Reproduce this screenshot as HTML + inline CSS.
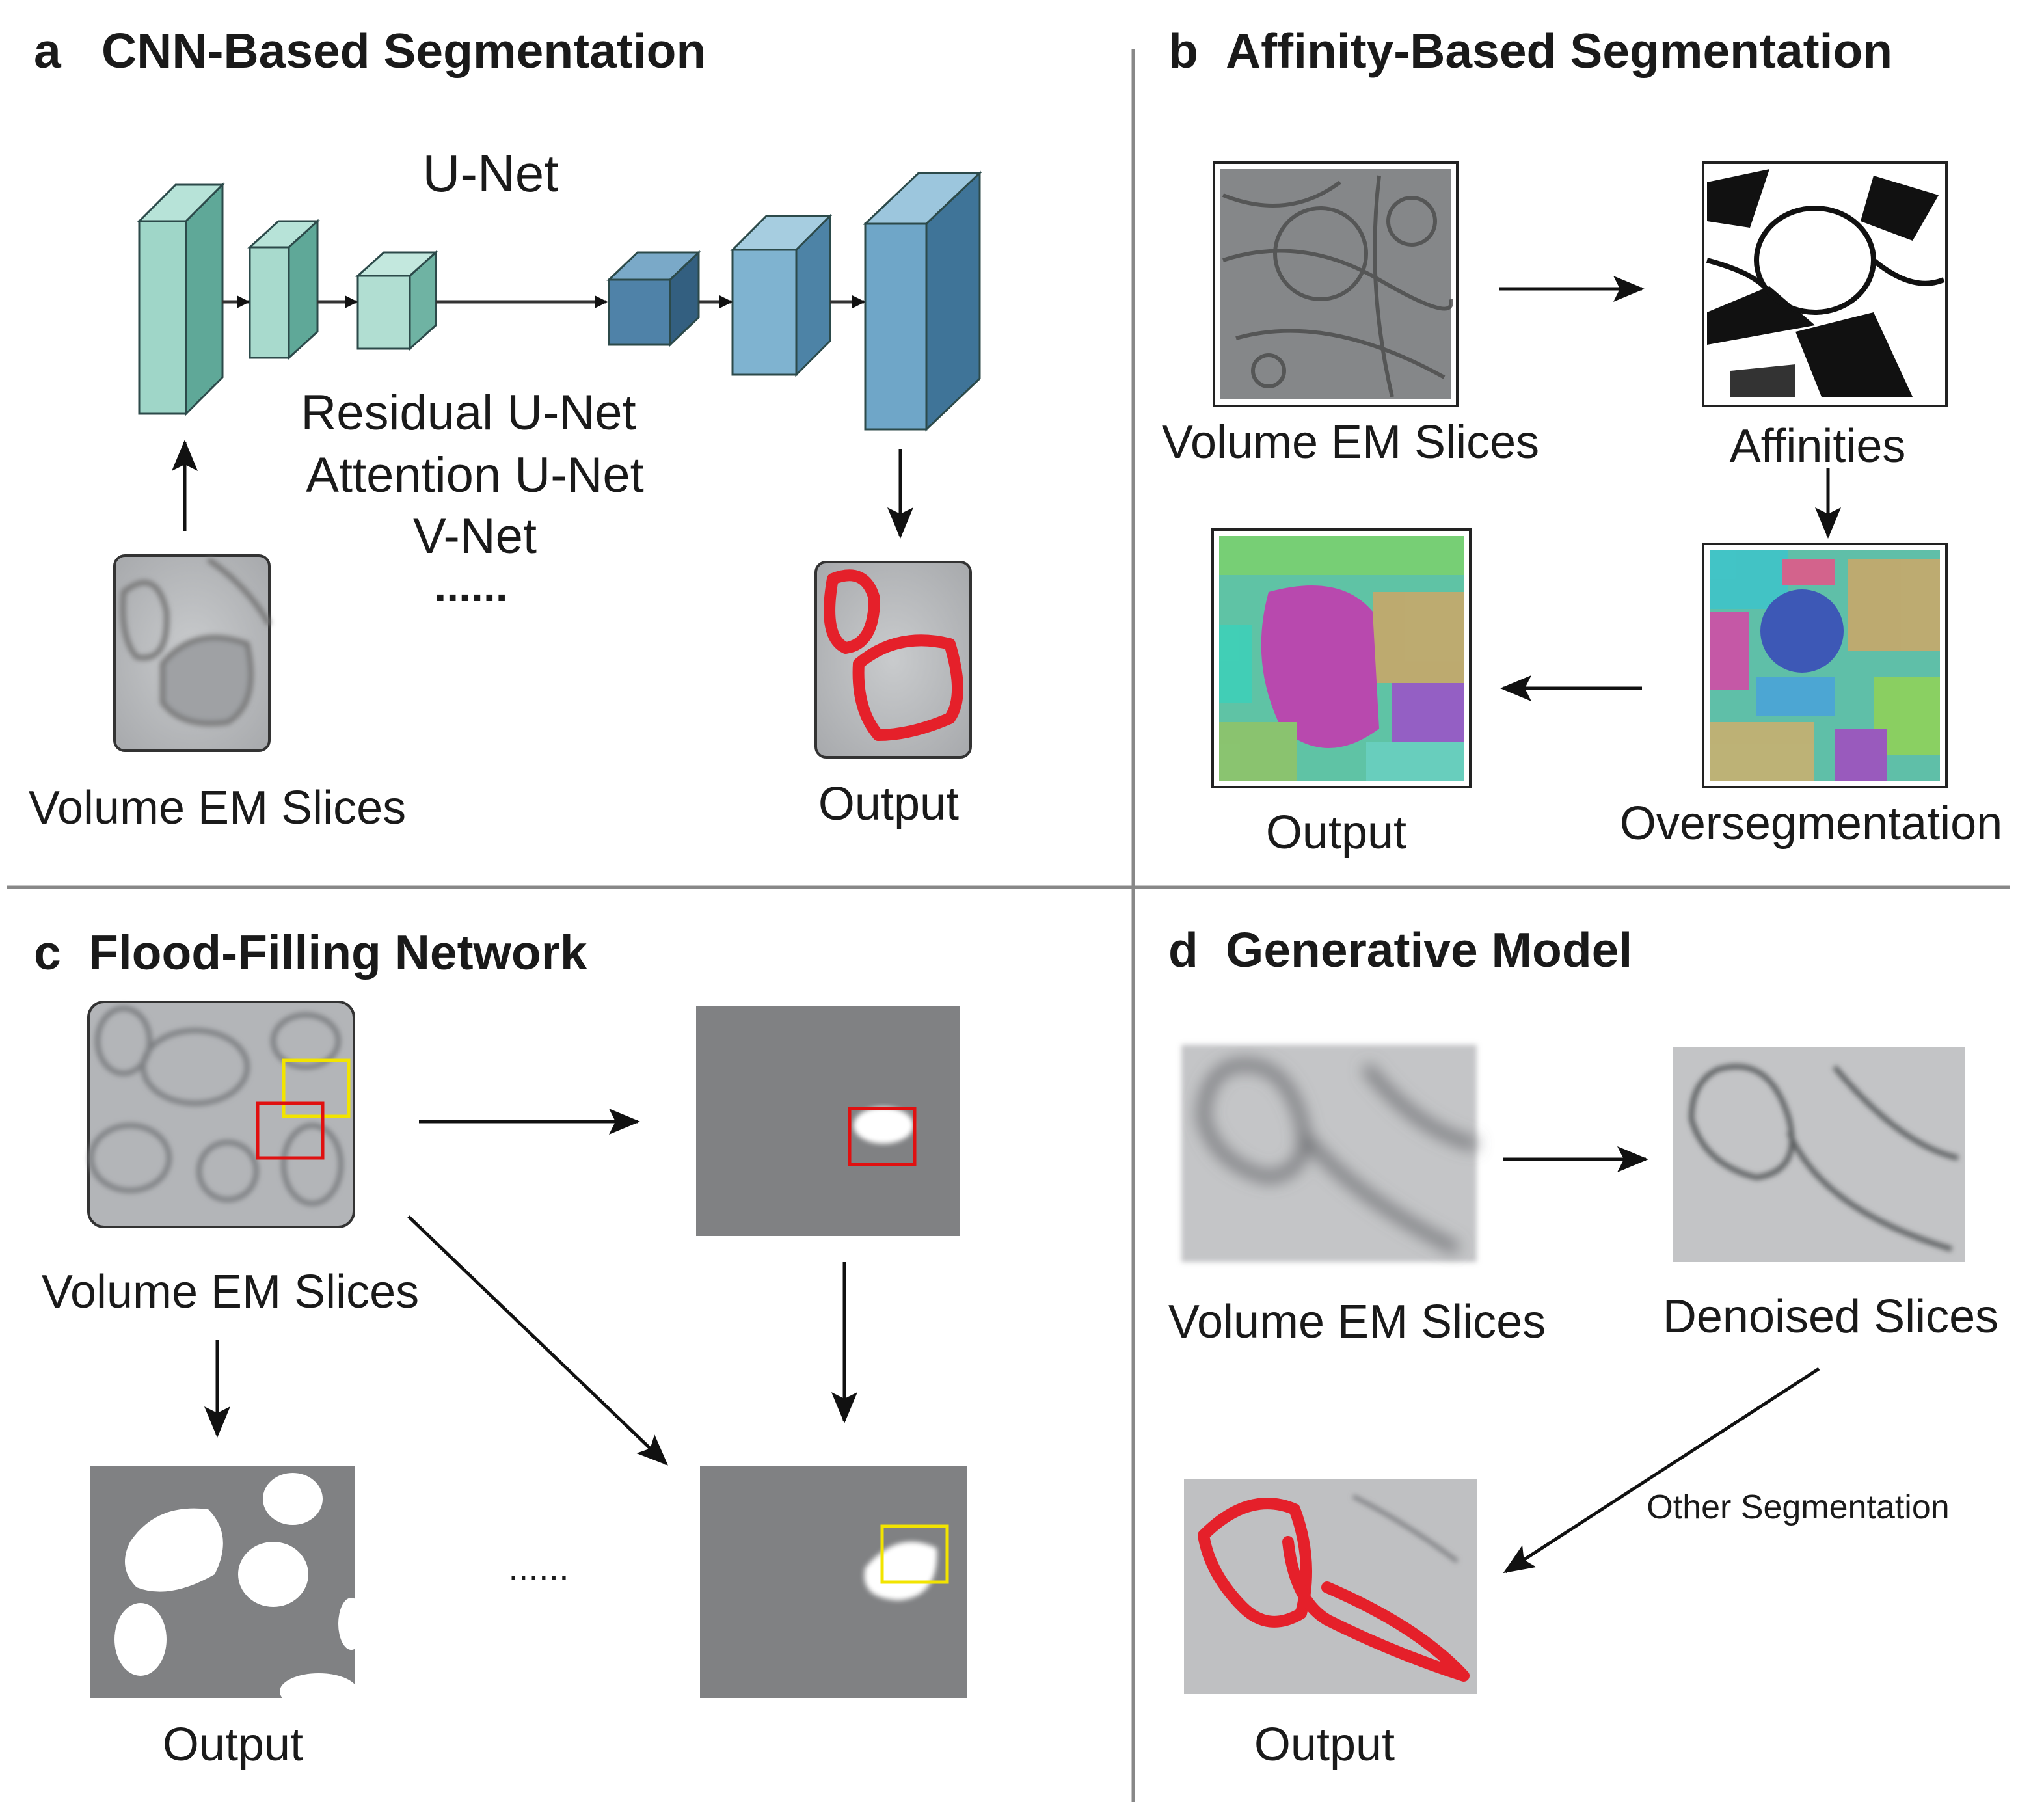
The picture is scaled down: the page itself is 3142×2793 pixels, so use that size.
<!DOCTYPE html>
<html><head><meta charset="utf-8"><style>
html,body{margin:0;padding:0;background:#fff;width:3142px;height:2793px;overflow:hidden}
svg{display:block}
text{font-family:"Liberation Sans",sans-serif;fill:#1a1a1a}
.t{font-weight:bold;font-size:37.5px}
.l{font-size:36px}
</style></head><body>
<svg width="3142" height="2793" viewBox="0 0 1571 1396.5" xmlns="http://www.w3.org/2000/svg">
<defs>
<marker id="ah" markerWidth="10" markerHeight="10" refX="9" refY="5" orient="auto" markerUnits="userSpaceOnUse" viewBox="0 0 10 10"><path d="M0,0 L10,5 L0,10 z" fill="#111"/></marker>
<marker id="ah2" markerWidth="24" markerHeight="20" refX="22" refY="10" orient="auto" markerUnits="userSpaceOnUse" viewBox="0 0 24 20"><path d="M0,0 L24,10 L0,20 L5,10 z" fill="#111"/></marker>
<filter id="bl"><feGaussianBlur stdDeviation="6"/></filter>
<filter id="bl2"><feGaussianBlur stdDeviation="2"/></filter>
<radialGradient id="em" cx="50%" cy="50%" r="70%"><stop offset="0" stop-color="#c9cbcd"/><stop offset="1" stop-color="#a7a9ac"/></radialGradient>
</defs>

<line x1="871" y1="38" x2="871" y2="1385" stroke="#888" stroke-width="2.5"/>
<line x1="5" y1="682" x2="1545" y2="682" stroke="#888" stroke-width="2.5"/>

<text class="t" x="26" y="52">a</text><text class="t" x="78" y="52">CNN-Based Segmentation</text>
<text class="t" x="898" y="52">b</text><text class="t" x="942" y="52">Affinity-Based Segmentation</text>
<text class="t" x="26" y="745">c</text><text class="t" x="68" y="745">Flood-Filling Network</text>
<text class="t" x="898" y="743">d</text><text class="t" x="942" y="743">Generative Model</text>

<g stroke="#2c4a4a" stroke-width="1.5">
 <polygon points="107,170 135,142 171,142 143,170" fill="#b7e3d8"/><polygon points="143,170 171,142 171,290 143,318" fill="#5fa898"/><rect x="107" y="170" width="36" height="148" fill="#9fd6c8"/>
 <polygon points="192,190 214,170 244,170 222,190" fill="#b7e3d8"/><polygon points="222,190 244,170 244,255 222,275" fill="#5fa898"/><rect x="192" y="190" width="30" height="85" fill="#a8dacd"/>
 <polygon points="275,212 295,194 335,194 315,212" fill="#c3e8de"/><polygon points="315,212 335,194 335,250 315,268" fill="#6fb3a3"/><rect x="275" y="212" width="40" height="56" fill="#b1ded2"/>
 <polygon points="468,215 490,194 537,194 515,215" fill="#7aa9c8"/><polygon points="515,215 537,194 537,244 515,265" fill="#335f80"/><rect x="468" y="215" width="47" height="50" fill="#4f82a8"/>
 <polygon points="563,192 589,166 638,166 612,192" fill="#a6cde0"/><polygon points="612,192 638,166 638,262 612,288" fill="#4d83a6"/><rect x="563" y="192" width="49" height="96" fill="#7fb3d0"/>
 <polygon points="665,172 706,133 753,133 712,172" fill="#9cc6dd"/><polygon points="712,172 753,133 753,291 712,330" fill="#3f7498"/><rect x="665" y="172" width="47" height="158" fill="#6fa6c8"/>
</g>
<g stroke="#333" stroke-width="2.5" marker-end="url(#ah)">
 <line x1="171" y1="232" x2="191" y2="232"/><line x1="244" y1="232" x2="274" y2="232"/><line x1="335" y1="232" x2="466" y2="232"/><line x1="537" y1="232" x2="562" y2="232"/><line x1="638" y1="232" x2="664" y2="232"/>
</g>
<text x="377" y="147" font-size="40" text-anchor="middle">U-Net</text>
<text x="360" y="330" font-size="38" text-anchor="middle">Residual U-Net</text>
<text x="365" y="378" font-size="38" text-anchor="middle">Attention U-Net</text>
<text x="365" y="425" font-size="38" text-anchor="middle">V-Net</text>
<text x="362" y="462" font-size="34" font-weight="bold" text-anchor="middle">......</text>
<line x1="142" y1="408" x2="142" y2="340" stroke="#111" stroke-width="2.5" marker-end="url(#ah2)"/>
<rect x="88" y="427" width="119" height="150" rx="8" fill="url(#em)" stroke="#333" stroke-width="2"/>
<g filter="url(#bl2)" fill="none" stroke="#777" stroke-width="4"><path d="M95,455 Q120,435 128,470 Q130,510 105,505 Q92,490 95,455z"/><path d="M125,510 Q150,480 190,495 Q200,540 175,555 Q140,560 125,540z" fill="#9fa1a4"/><path d="M160,430 Q190,450 207,480"/></g>
<text class="l" x="167" y="633" text-anchor="middle">Volume EM Slices</text>
<line x1="692" y1="345" x2="692" y2="412" stroke="#111" stroke-width="2.5" marker-end="url(#ah2)"/>
<rect x="627" y="432" width="119" height="150" rx="8" fill="url(#em)" stroke="#333" stroke-width="2"/>
<g fill="none" stroke="#e5202a" stroke-width="9" stroke-linejoin="round"><path d="M640,445 Q665,435 672,460 Q672,495 650,498 Q632,490 640,445z"/><path d="M660,510 Q690,485 730,495 Q742,535 730,552 Q700,565 675,565 Q658,545 660,510z"/></g>
<text class="l" x="683" y="630" text-anchor="middle">Output</text>

<rect x="933" y="125" width="187" height="187" fill="#fff" stroke="#222" stroke-width="2"/>
<rect x="938" y="130" width="177" height="177" fill="#858789"/>
<g fill="none" stroke="#4a4a4a" stroke-width="3" opacity=".8"><path d="M940,200 Q1000,180 1060,215 T1115,230"/><circle cx="1015" cy="195" r="35"/><path d="M950,260 Q1020,240 1110,290"/><path d="M1060,135 Q1050,220 1070,305"/><path d="M940,150 Q990,170 1030,140"/><circle cx="1085" cy="170" r="18"/><circle cx="975" cy="285" r="12"/></g>
<rect x="1309" y="125" width="187" height="187" fill="#fff" stroke="#222" stroke-width="2"/>
<g fill="#111"><path d="M1312,140 L1360,130 L1345,175 L1312,170z"/><path d="M1312,240 L1360,220 L1395,250 L1312,265z"/><path d="M1380,255 L1440,240 L1470,305 L1400,305z"/><path d="M1440,135 L1490,150 L1470,185 L1430,170z"/><path d="M1330,285 L1380,280 L1380,305 L1330,305z" fill="#333"/></g>
<g fill="none" stroke="#111" stroke-width="4"><ellipse cx="1395" cy="200" rx="45" ry="40"/><path d="M1312,200 Q1350,210 1360,225"/><path d="M1440,200 Q1470,225 1494,215"/></g>
<line x1="1152" y1="222" x2="1262" y2="222" stroke="#111" stroke-width="2.5" marker-end="url(#ah2)"/>
<text class="l" x="1038" y="352" text-anchor="middle">Volume EM Slices</text>
<text class="l" x="1397" y="355" text-anchor="middle">Affinities</text>
<line x1="1405" y1="360" x2="1405" y2="412" stroke="#111" stroke-width="2.5" marker-end="url(#ah2)"/>
<rect x="1309" y="418" width="187" height="187" fill="#fff" stroke="#222" stroke-width="2"/>
<rect x="1314" y="423" width="177" height="177" fill="#5fbfa8"/>
<g opacity=".9"><rect x="1314" y="423" width="60" height="45" fill="#3fc4c9"/><rect x="1420" y="430" width="71" height="70" fill="#c8a86a"/><ellipse cx="1385" cy="485" rx="32" ry="32" fill="#3a4db8"/><rect x="1314" y="470" width="30" height="60" fill="#d14da6"/><rect x="1440" y="520" width="51" height="60" fill="#8fd15a"/><rect x="1314" y="555" width="80" height="45" fill="#c8b070"/><rect x="1350" y="520" width="60" height="30" fill="#4aa4d8"/><rect x="1410" y="560" width="40" height="40" fill="#a050c0"/><rect x="1370" y="430" width="40" height="20" fill="#e05a8a"/></g>
<line x1="1262" y1="529" x2="1155" y2="529" stroke="#111" stroke-width="2.5" marker-end="url(#ah2)"/>
<rect x="932" y="407" width="198" height="198" fill="#fff" stroke="#222" stroke-width="2"/>
<rect x="937" y="412" width="188" height="188" fill="#5fc3a5"/>
<g opacity=".9"><rect x="1055" y="455" width="70" height="70" fill="#c8a86a"/><path d="M975,455 Q1030,440 1055,470 L1060,560 Q1020,590 985,560 Q960,510 975,455z" fill="#c23cb0"/><rect x="1070" y="525" width="55" height="50" fill="#9a55c8"/><rect x="937" y="555" width="60" height="45" fill="#8fc46a"/><rect x="937" y="412" width="188" height="30" fill="#7ad070"/><rect x="1050" y="570" width="75" height="30" fill="#6ad0c0"/><rect x="937" y="480" width="25" height="60" fill="#3ed0b8"/></g>
<text class="l" x="1027" y="652" text-anchor="middle">Output</text>
<text class="l" x="1392" y="645" text-anchor="middle">Oversegmentation</text>

<rect x="68" y="770" width="204" height="173" rx="12" fill="#b3b5b8" stroke="#333" stroke-width="2"/>
<g fill="none" stroke="#7d7f82" stroke-width="4" filter="url(#bl2)"><ellipse cx="150" cy="820" rx="40" ry="28"/><ellipse cx="100" cy="890" rx="30" ry="25"/><ellipse cx="175" cy="900" rx="22" ry="22"/><ellipse cx="235" cy="800" rx="25" ry="20"/><ellipse cx="240" cy="895" rx="22" ry="30"/><ellipse cx="95" cy="800" rx="20" ry="25"/></g>
<rect x="218" y="815" width="50" height="43" fill="none" stroke="#f2e400" stroke-width="2.5"/>
<rect x="198" y="848" width="50" height="42" fill="none" stroke="#e01010" stroke-width="2.5"/>
<line x1="322" y1="862" x2="490" y2="862" stroke="#111" stroke-width="2.5" marker-end="url(#ah2)"/>
<rect x="535" y="773" width="203" height="177" fill="#808183"/>
<ellipse cx="679" cy="865" rx="23" ry="14" fill="#fff" filter="url(#bl2)"/>
<rect x="653" y="852" width="50" height="43" fill="none" stroke="#e01010" stroke-width="2.5"/>
<line x1="649" y1="970" x2="649" y2="1092" stroke="#111" stroke-width="2.5" marker-end="url(#ah2)"/>
<line x1="314" y1="935" x2="512" y2="1125" stroke="#111" stroke-width="2.5" marker-end="url(#ah2)"/>
<text class="l" x="177" y="1005" text-anchor="middle">Volume EM Slices</text>
<line x1="167" y1="1030" x2="167" y2="1103" stroke="#111" stroke-width="2.5" marker-end="url(#ah2)"/>
<rect x="69" y="1127" width="204" height="178" fill="#808183"/>
<g fill="#fff"><path d="M100,1185 Q120,1155 160,1160 Q180,1180 165,1210 Q130,1230 105,1220 Q90,1205 100,1185z"/><ellipse cx="225" cy="1152" rx="23" ry="20"/><ellipse cx="210" cy="1210" rx="27" ry="25"/><ellipse cx="108" cy="1260" rx="20" ry="28"/><ellipse cx="270" cy="1248" rx="10" ry="20"/><ellipse cx="245" cy="1300" rx="30" ry="14"/></g>
<text x="414" y="1214" font-size="28" text-anchor="middle">......</text>
<rect x="538" y="1127" width="205" height="178" fill="#808183"/>
<path d="M665,1205 Q690,1175 720,1190 Q722,1228 690,1230 Q660,1228 665,1205z" fill="#fff" filter="url(#bl2)"/>
<rect x="678" y="1173" width="50" height="43" fill="none" stroke="#f2e400" stroke-width="2.5"/>
<text class="l" x="179" y="1353" text-anchor="middle">Output</text>

<rect x="908" y="803" width="227" height="167" fill="#c4c5c7" filter="url(#bl2)"/>
<g fill="none" stroke="#6e7073" stroke-width="8" filter="url(#bl)"><path d="M945,820 Q985,810 1000,860 Q1010,900 975,905 Q935,895 925,860 Q925,830 945,820z"/><path d="M1000,870 Q1040,920 1120,960"/><path d="M1050,820 Q1090,870 1135,880"/></g>
<line x1="1155" y1="891" x2="1265" y2="891" stroke="#111" stroke-width="2.5" marker-end="url(#ah2)"/>
<rect x="1286" y="805" width="224" height="165" fill="#c3c4c6"/>
<g fill="none" stroke="#5c5e61" stroke-width="4" filter="url(#bl2)"><path d="M1320,822 Q1360,810 1375,860 Q1385,900 1350,905 Q1310,895 1300,860 Q1300,832 1320,822z"/><path d="M1375,870 Q1400,930 1500,960"/><path d="M1410,820 Q1460,880 1505,890"/></g>
<text class="l" x="1043" y="1028" text-anchor="middle">Volume EM Slices</text>
<text class="l" x="1407" y="1024" text-anchor="middle">Denoised Slices</text>
<line x1="1398" y1="1052" x2="1157" y2="1208" stroke="#111" stroke-width="2.5" marker-end="url(#ah2)"/>
<text x="1382" y="1167" font-size="26" text-anchor="middle">Other Segmentation</text>
<rect x="910" y="1137" width="225" height="165" fill="#bfc0c2"/>
<g fill="none" stroke="#7a7c7f" stroke-width="3" filter="url(#bl2)"><path d="M1040,1150 Q1080,1170 1120,1200"/></g>
<g fill="none" stroke="#e5202a" stroke-width="9" stroke-linejoin="round" stroke-linecap="round"><path d="M925,1180 Q960,1145 995,1160 Q1010,1200 1000,1240 Q975,1255 955,1235 Q930,1210 925,1180z"/><path d="M990,1185 Q995,1230 1020,1245 Q1070,1270 1125,1288 Q1090,1250 1020,1220"/></g>
<text class="l" x="1018" y="1353" text-anchor="middle">Output</text>
</svg>
</body></html>
